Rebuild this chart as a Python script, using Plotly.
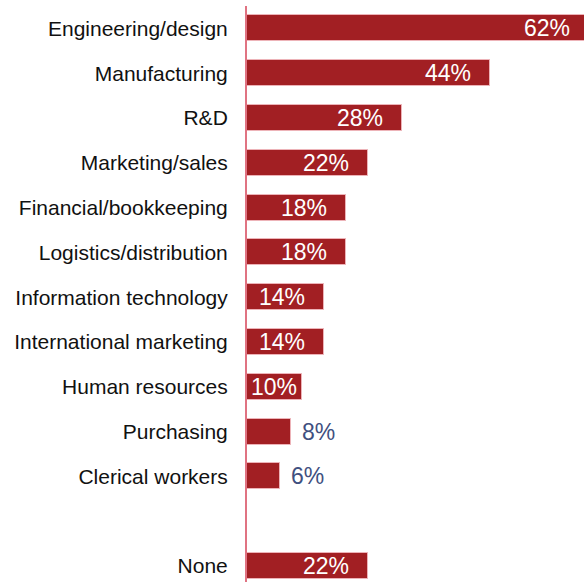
import plotly.graph_objects as go

# Share of respondents reporting a shortage, by job area
categories = [
    "Engineering/design",
    "Manufacturing",
    "R&D",
    "Marketing/sales",
    "Financial/bookkeeping",
    "Logistics/distribution",
    "Information technology",
    "International marketing",
    "Human resources",
    "Purchasing",
    "Clerical workers",
    " ",  # spacer row before "None"
    "None",
]
values = [62, 44, 28, 22, 18, 18, 14, 14, 10, 8, 6, None, 22]

BAR = "#A21F23"
EDGE = "#EDB3B8"
AXIS = "#E07382"
OUT_TEXT = "#3F5080"
FONT = "Liberation Sans, Arial, sans-serif"

X_MAX = 61.05          # axis range end (percent)
PLOT_W = 584 - 247     # plot width in px
PX_PER_UNIT = PLOT_W / X_MAX
LABEL_W = 46           # approx. width of a "NN%" label in px

ys = [c for c, v in zip(categories, values) if v is not None]
xs = [v for v in values if v is not None]

fig = go.Figure(
    go.Bar(
        x=xs,
        y=ys,
        orientation="h",
        width=0.58,
        marker=dict(color=BAR, line=dict(color=EDGE, width=1)),
        hoverinfo="skip",
    )
)

# value labels: white inside longer bars, slate-blue beside short ones
for c, v in zip(ys, xs):
    inside = v >= 10
    if inside:
        bar_px = v * PX_PER_UNIT
        shift = -min(17, max(3, bar_px - LABEL_W - 6))
    else:
        shift = 9
    fig.add_annotation(
        x=v / X_MAX,
        xref="paper",
        y=c,
        yref="y",
        text=f"{v}%",
        showarrow=False,
        xanchor="right" if inside else "left",
        xshift=shift,
        font=dict(family=FONT, size=23, color="white" if inside else OUT_TEXT),
    )

fig.update_layout(
    width=584,
    height=582,
    margin=dict(l=247, r=0, t=6, b=0),
    paper_bgcolor="white",
    plot_bgcolor="white",
    showlegend=False,
    bargap=0,
)
fig.update_xaxes(
    range=[0, X_MAX],
    visible=False,
    showgrid=False,
    zeroline=False,
)
fig.update_yaxes(
    type="category",
    categoryorder="array",
    categoryarray=categories,
    range=[12.357, -0.5],
    showline=True,
    linecolor=AXIS,
    linewidth=2,
    showgrid=False,
    zeroline=False,
    ticks="outside",
    ticklen=13,
    tickcolor="rgba(0,0,0,0)",
    tickfont=dict(family=FONT, size=21, color="#111111"),
)

fig.write_html("out.html")
